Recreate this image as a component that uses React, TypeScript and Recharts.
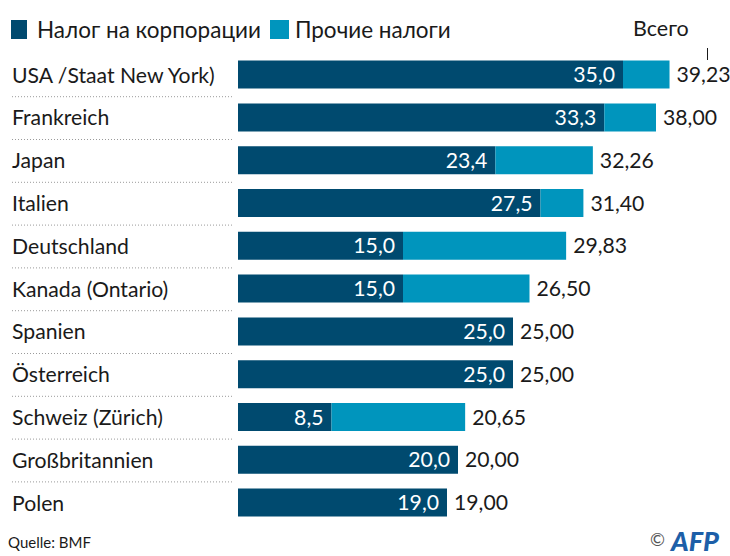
import React from "react";
import { BarChart, Bar, XAxis, YAxis, LabelList } from "recharts";

const countries = [
  "USA /Staat New York)",
  "Frankreich",
  "Japan",
  "Italien",
  "Deutschland",
  "Kanada (Ontario)",
  "Spanien",
  "Österreich",
  "Schweiz (Zürich)",
  "Großbritannien",
  "Polen",
];
const corporateTax = [35.0, 33.3, 23.4, 27.5, 15.0, 15.0, 25.0, 25.0, 8.5, 20.0, 19.0];
const totalTax = [39.23, 38.0, 32.26, 31.4, 29.83, 26.5, 25.0, 25.0, 20.65, 20.0, 19.0];

const DARK = "#004a6f";
const LIGHT = "#0095bd";
const FONT = "Lato, 'Noto Sans', sans-serif";

const data = countries.map((name, i) => ({
  name,
  corp: corporateTax[i],
  other: +(totalTax[i] - corporateTax[i]).toFixed(2),
  total: totalTax[i],
}));

const fmt1 = (v: any) => Number(v).toFixed(1).replace(".", ",");
const fmt2 = (v: any) => Number(v).toFixed(2).replace(".", ",");

function CountryTick(props: any) {
  const { y, payload, index } = props;
  const last = index === countries.length - 1;
  return (
    <g>
      <text x={12} y={y} dy={7.5} fontSize={21.2} fill="#1a1a1a" fontFamily={FONT}>
        {payload.value}
      </text>
      {!last && (
        <line x1={12} x2={232} y1={y + 21.7} y2={y + 21.7} stroke="#9a9a9a" strokeWidth={1} strokeDasharray="1 2" />
      )}
    </g>
  );
}

function TotalText({ x, y, value }: any) {
  return (
    <text x={x} y={y} dy={7.5} fontSize={21.2} fill="#1a1a1a" fontFamily={FONT}>
      {fmt2(value)}
    </text>
  );
}

// light bar: label after the stack end
function StackTotal(props: any) {
  const { x, y, width, height, value } = props;
  return <TotalText x={x + width + 7} y={y + height / 2} value={value} />;
}

// dark bar: only for rows without other taxes (zero-width light bar gets no label)
function FlatTotal(props: any) {
  const { x, y, width, height, index } = props;
  const row = data[index];
  if (!row || row.other > 0) return null;
  return <TotalText x={x + width + 7} y={y + height / 2} value={row.total} />;
}

export default function App() {
  return (
    <div style={{ position: "absolute", left: 0, top: 0, width: 730, height: 556, background: "#fff", fontFamily: FONT }}>
      {/* legend */}
      <div style={{ position: "absolute", left: 11, top: 16, display: "flex", alignItems: "center", fontSize: 22.5, color: "#1a1a1a" }}>
        <span style={{ width: 16, height: 19, background: DARK, display: "inline-block", marginRight: 10 }} />
        <span style={{ marginRight: 9 }}>Налог на корпорации</span>
        <span style={{ width: 19, height: 19, background: LIGHT, display: "inline-block", marginRight: 6 }} />
        <span>Прочие налоги</span>
      </div>
      <div style={{ position: "absolute", left: 633, top: 15, fontSize: 21.5, color: "#1a1a1a" }}>Всего</div>
      <div style={{ position: "absolute", left: 707, top: 48, width: 1, height: 12, background: "#1a1a1a" }} />

      <BarChart
        width={730}
        height={556}
        data={data}
        layout="vertical"
        margin={{ top: 53.6, right: 52, bottom: 31.6, left: 8 }}
        barSize={28}
      >
        <XAxis type="number" domain={[0, 40]} hide />
        <YAxis type="category" dataKey="name" width={230} axisLine={false} tickLine={false} tick={<CountryTick />} />
        <Bar dataKey="corp" stackId="a" fill={DARK} isAnimationActive={false}>
          <LabelList
            dataKey="corp"
            position="insideRight"
            offset={8}
            formatter={fmt1}
            fill="#ffffff"
            fontSize={21.2}
            fontFamily={FONT}
          />
          <LabelList dataKey="total" content={<FlatTotal />} />
        </Bar>
        <Bar dataKey="other" stackId="a" fill={LIGHT} isAnimationActive={false}>
          <LabelList dataKey="total" content={<StackTotal />} />
        </Bar>
      </BarChart>

      {/* footer */}
      <div style={{ position: "absolute", left: 8, top: 533, fontSize: 15, color: "#1a1a1a" }}>Quelle: BMF</div>
      <div style={{ position: "absolute", left: 650, top: 528, fontSize: 18, color: "#555" }}>©</div>
      <div
        style={{
          position: "absolute",
          left: 671,
          top: 524,
          fontSize: 27,
          fontWeight: 900,
          fontStyle: "italic",
          color: "#1d5fa8",
          letterSpacing: 0,
        }}
      >
        AFP
      </div>
    </div>
  );
}
